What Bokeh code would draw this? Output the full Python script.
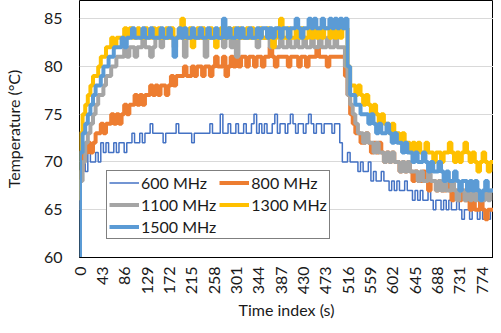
import math
from bokeh.plotting import figure
from bokeh.models import Range1d, FixedTicker, Legend, LegendItem
from bokeh.embed import file_html
from bokeh.resources import INLINE

# time index (s), one reading every 5 s
time_index = list(range(0, 800, 5))

series_names = ["600 MHz", "800 MHz", "1100 MHz", "1300 MHz", "1500 MHz"]

temp_600 = [
    67, 69, 70, 69, 71, 70, 70, 71, 70, 72,
    71, 72, 71, 71, 72, 71, 72, 72, 71, 72,
    72, 73, 72, 72, 73, 72, 73, 73, 74, 73,
    73, 73, 73, 72, 73, 73, 73, 73, 74, 73,
    73, 73, 73, 73, 72, 73, 73, 73, 73, 73,
    73, 74, 73, 73, 73, 75, 73, 73, 74, 73,
    73, 74, 73, 73, 74, 73, 73, 74, 75, 73,
    74, 73, 74, 73, 73, 74, 75, 73, 74, 74,
    73, 74, 75, 74, 73, 74, 74, 73, 74, 75,
    74, 73, 74, 74, 73, 74, 74, 74, 73, 74,
    74, 72, 70, 70, 71, 70, 70, 70, 69, 70,
    69, 69, 70, 68, 69, 68, 68, 69, 68, 68,
    67, 68, 67, 68, 67, 67, 68, 67, 67, 66,
    67, 66, 67, 66, 66, 67, 66, 65, 66, 66,
    65, 66, 65, 66, 65, 65, 66, 65, 64, 65,
    65, 64, 65, 65, 64, 65, 64, 65, 64, 65,
]

temp_800 = [
    66, 69, 71, 71, 72, 71, 72, 73, 73, 74,
    73, 74, 74, 75, 74, 75, 74, 75, 76, 75,
    76, 76, 77, 76, 77, 76, 77, 77, 78, 77,
    78, 77, 78, 78, 77, 78, 79, 78, 79, 79,
    79, 80, 79, 79, 80, 79, 80, 80, 79, 80,
    80, 79, 80, 81, 80, 80, 81, 79, 80, 81,
    80, 81, 80, 81, 81, 80, 81, 81, 80, 81,
    81, 80, 81, 81, 82, 81, 80, 81, 81, 81,
    81, 80, 81, 81, 81, 80, 81, 81, 80, 81,
    81, 81, 82, 81, 81, 81, 80, 81, 81, 81,
    81, 81, 81, 79, 77, 75, 74, 73, 73, 72,
    72, 73, 72, 71, 72, 71, 72, 71, 70, 71,
    70, 71, 70, 70, 69, 70, 69, 70, 69, 68,
    69, 68, 68, 69, 68, 67, 68, 68, 67, 68,
    67, 67, 68, 67, 66, 67, 67, 66, 67, 66,
    66, 65, 66, 65, 65, 66, 65, 64, 65, 65,
]

temp_1100 = [
    65, 68, 70, 72, 73, 74, 75, 76, 77, 77,
    78, 79, 79, 80, 80, 81, 81, 81, 82, 81,
    82, 82, 81, 82, 82, 83, 82, 82, 81, 82,
    83, 83, 82, 83, 83, 83, 83, 82, 83, 83,
    83, 81, 83, 83, 83, 83, 83, 83, 83, 81,
    83, 83, 83, 83, 83, 83, 82, 83, 83, 82,
    83, 81, 83, 83, 83, 83, 83, 83, 83, 82,
    83, 83, 83, 83, 82, 83, 82, 82, 83, 82,
    82, 83, 82, 82, 83, 82, 82, 83, 82, 82,
    83, 82, 82, 83, 82, 82, 83, 82, 82, 83,
    82, 82, 82, 80, 77, 76, 75, 74, 73, 73,
    72, 73, 72, 72, 71, 72, 71, 71, 70, 71,
    70, 71, 70, 70, 69, 70, 69, 70, 69, 69,
    69, 68, 69, 68, 68, 69, 68, 68, 67, 68,
    67, 68, 67, 67, 68, 67, 66, 67, 67, 66,
    67, 66, 67, 66, 67, 66, 66, 67, 66, 67,
]

temp_1300 = [
    66, 73, 75, 76, 77, 78, 79, 79, 80, 81,
    81, 82, 82, 83, 82, 83, 83, 83, 84, 83,
    84, 83, 83, 84, 83, 83, 84, 83, 83, 84,
    83, 84, 83, 83, 84, 83, 84, 83, 83, 84,
    85, 83, 83, 84, 82, 83, 84, 83, 84, 83,
    83, 84, 83, 82, 83, 84, 83, 83, 84, 83,
    84, 83, 84, 83, 83, 84, 83, 84, 83, 83,
    84, 83, 83, 84, 83, 82, 83, 84, 85, 83,
    83, 84, 83, 83, 84, 83, 84, 83, 83, 84,
    83, 84, 83, 84, 83, 84, 84, 83, 84, 83,
    84, 83, 84, 84, 80, 78, 78, 77, 78, 77,
    76, 77, 76, 75, 76, 75, 74, 75, 74, 74,
    73, 74, 73, 73, 72, 73, 72, 72, 71, 72,
    71, 72, 71, 71, 72, 71, 71, 70, 71, 71,
    70, 71, 71, 72, 71, 70, 71, 70, 71, 72,
    71, 70, 71, 70, 69, 70, 71, 70, 69, 70,
]

temp_1500 = [
    60, 71, 73, 74, 75, 76, 77, 78, 78, 79,
    80, 80, 81, 81, 82, 82, 82, 83, 82, 83,
    83, 84, 83, 83, 83, 84, 83, 83, 84, 83,
    83, 83, 84, 83, 83, 84, 83, 81, 83, 84,
    83, 84, 83, 83, 84, 83, 83, 84, 83, 83,
    84, 83, 83, 84, 83, 83, 85, 83, 84, 83,
    83, 84, 83, 84, 83, 83, 84, 83, 83, 84,
    83, 84, 84, 83, 84, 83, 84, 84, 83, 84,
    84, 83, 84, 84, 85, 84, 83, 84, 84, 85,
    84, 85, 84, 84, 85, 84, 84, 85, 84, 85,
    84, 85, 84, 85, 80, 77, 77, 76, 76, 75,
    75, 75, 74, 75, 74, 73, 74, 73, 73, 74,
    73, 72, 73, 72, 72, 71, 72, 71, 71, 70,
    71, 70, 70, 71, 70, 69, 70, 69, 69, 70,
    69, 68, 69, 68, 68, 69, 68, 67, 68, 68,
    67, 68, 67, 68, 67, 66, 67, 68, 67, 67,
]

series_values = [temp_600, temp_800, temp_1100, temp_1300, temp_1500]
series_colors = ["#4472C4", "#ED7D31", "#A5A5A5", "#FFC000", "#5B9BD5"]
series_widths = [1.5, 4, 4, 4, 4]

x_ticks = [0, 43, 86, 129, 172, 215, 258, 301, 344, 387, 430, 473, 516,
           559, 602, 645, 688, 731, 774]
y_ticks = [60, 65, 70, 75, 80, 85]

FONT = "Lato"
TXT = "#1a1a1a"

p = figure(width=493, height=325, output_backend="svg", toolbar_location=None,
           x_range=Range1d(-1, 796), y_range=Range1d(60, 86.9),
           min_border_left=73, min_border_right=0, min_border_top=0,
           min_border_bottom=68)

p.outline_line_color = "black"
p.outline_line_width = 1
p.background_fill_color = "white"
p.border_fill_color = "white"

p.xgrid.grid_line_color = None
p.ygrid.grid_line_color = "#D9D9D9"
p.ygrid.grid_line_width = 1
p.ygrid.ticker = FixedTicker(ticks=y_ticks)

p.yaxis.ticker = FixedTicker(ticks=y_ticks)
p.xaxis.ticker = FixedTicker(ticks=x_ticks)
p.xaxis.major_label_orientation = math.pi / 2

for ax in (p.xaxis, p.yaxis):
    ax.major_tick_line_color = None
    ax.minor_tick_line_color = None
    ax.major_tick_out = 0
    ax.major_tick_in = 0
    ax.minor_tick_out = 0
    ax.major_label_text_font = FONT
    ax.major_label_text_font_size = "16px"
    ax.major_label_text_color = TXT
    ax.axis_label_text_font = FONT
    ax.axis_label_text_font_size = "16px"
    ax.axis_label_text_font_style = "normal"
    ax.axis_label_text_color = TXT

p.yaxis.axis_line_color = None
p.xaxis.axis_line_color = "black"
p.yaxis.major_label_standoff = 17
p.xaxis.major_label_standoff = 9
p.yaxis.axis_label = "Temperature (°C)"
p.xaxis.axis_label = "Time index (s)"
p.yaxis.axis_label_standoff = 18
p.xaxis.axis_label_standoff = 3

items = []
for name, vals, col, w in zip(series_names, series_values, series_colors, series_widths):
    r = p.step(time_index, vals, mode="before", line_color=col, line_width=w)
    items.append(LegendItem(label=name, renderers=[r]))

legend = Legend(items=items, location=(27, 18), orientation="horizontal", ncols=2,
                label_text_font=FONT, label_text_font_size="16px",
                label_text_color=TXT, glyph_width=30, glyph_height=19,
                label_height=19, label_standoff=2, spacing=3, padding=2,
                margin=0, border_line_color="black", border_line_width=1,
                background_fill_color="white", background_fill_alpha=1.0)
p.add_layout(legend, "center")

open("out.html", "w").write(file_html(p, INLINE))
